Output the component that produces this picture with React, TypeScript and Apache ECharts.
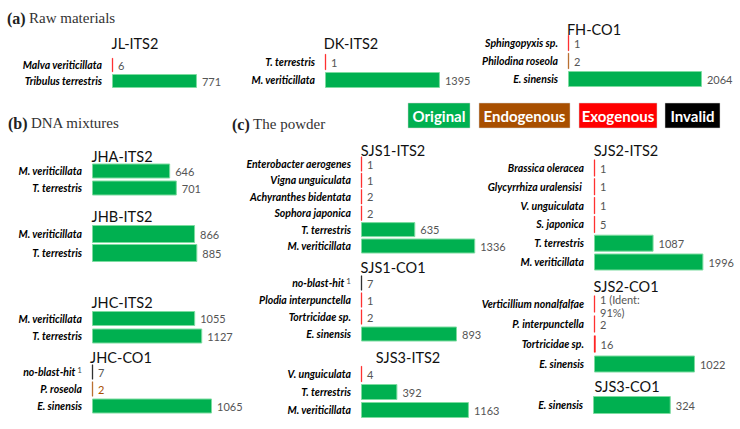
import React, { useEffect, useRef } from 'react';
import * as echarts from 'echarts';

// ---------- data ----------
const legendNames = ['Original', 'Endogenous', 'Exogenous', 'Invalid'];
const typeColors: Record<string, string> = { O: '#00B050', N: '#A84F00', X: '#FF0000', I: '#000000' };

const jlCats = ['Malva veriticillata', 'Tribulus terrestris'];
const jlVals = [6, 771];
const jlTypes = ['X', 'O'];

const dkCats = ['T. terrestris', 'M. veriticillata'];
const dkVals = [1, 1395];
const dkTypes = ['X', 'O'];

const fhCats = ['Sphingopyxis sp.', 'Philodina roseola', 'E. sinensis'];
const fhVals = [1, 2, 2064];
const fhTypes = ['X', 'N', 'O'];

const jhaCats = ['M. veriticillata', 'T. terrestris'];
const jhaVals = [646, 701];
const jhaTypes = ['O', 'O'];

const jhbCats = ['M. veriticillata', 'T. terrestris'];
const jhbVals = [866, 885];
const jhbTypes = ['O', 'O'];

const jhcItsCats = ['M. veriticillata', 'T. terrestris'];
const jhcItsVals = [1055, 1127];
const jhcItsTypes = ['O', 'O'];

const jhcCoCats = ['no-blast-hit', 'P. roseola', 'E. sinensis'];
const jhcCoVals = [7, 2, 1065];
const jhcCoTypes = ['I', 'N', 'O'];

const sjs1ItsCats = ['Enterobacter aerogenes', 'Vigna unguiculata', 'Achyranthes bidentata', 'Sophora japonica', 'T. terrestris', 'M. veriticillata'];
const sjs1ItsVals = [1, 1, 2, 2, 635, 1336];
const sjs1ItsTypes = ['X', 'X', 'X', 'X', 'O', 'O'];

const sjs1CoCats = ['no-blast-hit', 'Plodia interpunctella', 'Tortricidae sp.', 'E. sinensis'];
const sjs1CoVals = [7, 1, 2, 893];
const sjs1CoTypes = ['I', 'X', 'X', 'O'];

const sjs3ItsCats = ['V. unguiculata', 'T. terrestris', 'M. veriticillata'];
const sjs3ItsVals = [4, 392, 1163];
const sjs3ItsTypes = ['X', 'O', 'O'];

const sjs2ItsCats = ['Brassica oleracea', 'Glycyrrhiza uralensisi ', 'V. unguiculata', 'S. japonica', 'T. terrestris', 'M. veriticillata'];
const sjs2ItsVals = [1, 1, 1, 5, 1087, 1996];
const sjs2ItsTypes = ['X', 'X', 'X', 'X', 'O', 'O'];

const sjs2CoCats = ['Verticillium nonalfalfae', 'P. interpunctella', 'Tortricidae sp.', 'E. sinensis'];
const sjs2CoVals = [1, 2, 16, 1022];
const sjs2CoTypes = ['X', 'X', 'X', 'O'];
const sjs2CoNotes = [' (Ident:\n91%)', '', '', ''];

const sjs3CoCats = ['E. sinensis'];
const sjs3CoVals = [324];
const sjs3CoTypes = ['O'];

// ---------- layout ----------
type Panel = {
  title: string; cats: string[]; vals: number[]; types: string[]; notes?: string[];
  ax: number; ppu: number; row0: number; sp: number; bw: number; tx: number; ty: number; colorLabelTypes?: string[];
};

const panels: Panel[] = [
  { title: 'JL-ITS2', cats: jlCats, vals: jlVals, types: jlTypes, ax: 112, ppu: 0.1102, row0: 65, sp: 16, bw: 14, tx: 135, ty: 43 },
  { title: 'DK-ITS2', cats: dkCats, vals: dkVals, types: dkTypes, ax: 325, ppu: 0.0824, row0: 62, sp: 18, bw: 16, tx: 351, ty: 43 },
  { title: 'FH-CO1', cats: fhCats, vals: fhVals, types: fhTypes, ax: 568, ppu: 0.0649, row0: 43, sp: 18, bw: 16, tx: 594, ty: 29 },
  { title: 'JHA-ITS2', cats: jhaCats, vals: jhaVals, types: jhaTypes, ax: 92, ppu: 0.121, row0: 171, sp: 17, bw: 15, tx: 122, ty: 156 },
  { title: 'JHB-ITS2', cats: jhbCats, vals: jhbVals, types: jhbTypes, ax: 92, ppu: 0.119, row0: 234, sp: 19, bw: 18, tx: 122, ty: 216 },
  { title: 'JHC-ITS2', cats: jhcItsCats, vals: jhcItsVals, types: jhcItsTypes, ax: 92, ppu: 0.0978, row0: 318.5, sp: 17.5, bw: 15, tx: 122, ty: 302 },
  { title: 'JHC-CO1', cats: jhcCoCats, vals: jhcCoVals, types: jhcCoTypes, ax: 92, ppu: 0.1127, row0: 372, sp: 17, bw: 15, tx: 121, ty: 357, colorLabelTypes: ['N'] },
  { title: 'SJS1-ITS2', cats: sjs1ItsCats, vals: sjs1ItsVals, types: sjs1ItsTypes, ax: 361, ppu: 0.0855, row0: 164, sp: 16.4, bw: 15, tx: 393, ty: 150 },
  { title: 'SJS1-CO1', cats: sjs1CoCats, vals: sjs1CoVals, types: sjs1CoTypes, ax: 361, ppu: 0.1075, row0: 283, sp: 17, bw: 15, tx: 393, ty: 267 },
  { title: 'SJS3-ITS2', cats: sjs3ItsCats, vals: sjs3ItsVals, types: sjs3ItsTypes, ax: 361, ppu: 0.0928, row0: 374, sp: 18, bw: 16, tx: 408, ty: 357 },
  { title: 'SJS2-ITS2', cats: sjs2ItsCats, vals: sjs2ItsVals, types: sjs2ItsTypes, ax: 594, ppu: 0.0548, row0: 168, sp: 18.8, bw: 17, tx: 626, ty: 150 },
  { title: 'SJS2-CO1', cats: sjs2CoCats, vals: sjs2CoVals, types: sjs2CoTypes, notes: sjs2CoNotes, ax: 594, ppu: 0.0988, row0: 304, sp: 20, bw: 17, tx: 626, ty: 286 },
  { title: 'SJS3-CO1', cats: sjs3CoCats, vals: sjs3CoVals, types: sjs3CoTypes, ax: 593, ppu: 0.24, row0: 405, sp: 20, bw: 18, tx: 627, ty: 386 },
];

const sections = [
  { tag: '(a)', name: 'Raw materials', x: 7, y: 18 },
  { tag: '(b)', name: 'DNA mixtures', x: 8, y: 123 },
  { tag: '(c)', name: 'The powder', x: 232, y: 124 },
];

const legendBoxes = [
  { x: 408, w: 62 },
  { x: 479, w: 91 },
  { x: 579, w: 78 },
  { x: 665, w: 55 },
];
const legendTypes = ['O', 'N', 'X', 'I'];

const SANS = 'Lato, "Noto Sans", sans-serif';
const SERIF = '"Liberation Serif", "DejaVu Serif", serif';

function buildOption() {
  const grid: any[] = [];
  const xAxis: any[] = [];
  const yAxis: any[] = [];
  const series: any[] = [];
  const graphic: any[] = [];

  panels.forEach((p, i) => {
    const maxV = Math.max(...p.vals);
    grid.push({
      left: p.ax,
      top: p.row0 - p.sp / 2,
      width: maxV * p.ppu,
      height: p.cats.length * p.sp,
      containLabel: false,
    });
    xAxis.push({ type: 'value', gridIndex: i, min: 0, max: maxV, show: false });
    yAxis.push({
      type: 'category',
      gridIndex: i,
      data: p.cats,
      inverse: true,
      axisLine: { show: false },
      axisTick: { show: false },
      splitLine: { show: false },
      axisLabel: {
        margin: 10,
        formatter: (v: string) => (v === 'no-blast-hit' ? `{n|${v}}{s|1}` : `{n|${v}}`),
        rich: {
          n: { fontFamily: SANS, fontWeight: 'bold', fontStyle: 'italic', fontSize: 10.5, color: '#000', lineHeight: 12 },
          s: { fontFamily: SANS, fontSize: 8, color: '#444', lineHeight: 8, verticalAlign: 'top', padding: [0, 0, 0, 2] },
        },
      },
    });
    series.push({
      type: 'bar',
      xAxisIndex: i,
      yAxisIndex: i,
      barWidth: p.bw,
      barMinHeight: 1,
      data: p.vals.map((v, k) => {
        const t = p.types[k];
        const note = p.notes ? p.notes[k] : '';
        const item: any = {
          value: v,
          itemStyle: t === 'O'
            ? { color: typeColors[t], borderColor: '#7ddca0', borderWidth: 1 }
            : { color: typeColors[t], borderColor: typeColors[t], borderWidth: 0.5 },
        };
        const lab: any = {};
        if (note) { lab.formatter = `${v}${note}`; lab.lineHeight = 13; lab.offset = [0, 2]; }
        if (p.colorLabelTypes && p.colorLabelTypes.includes(t)) lab.color = typeColors[t];
        if (Object.keys(lab).length) item.label = lab;
        return item;
      }),
      label: {
        show: true,
        position: 'right',
        distance: 5,
        fontFamily: SANS,
        fontSize: 11,
        color: '#555',
      },
    });
    graphic.push({
      type: 'text',
      x: p.tx,
      y: p.ty,
      style: { text: p.title, fontFamily: SANS, fontSize: 14.5, lineHeight: 14, fill: '#111', align: 'center', verticalAlign: 'middle' },
    });
  });

  sections.forEach((s) => {
    graphic.push({
      type: 'text',
      x: s.x,
      y: s.y,
      style: {
        text: `{b|${s.tag}} {n|${s.name}}`,
        verticalAlign: 'middle',
        rich: {
          b: { fontFamily: SERIF, fontWeight: 'bold', fontSize: 16, fill: '#222' },
          n: { fontFamily: SERIF, fontSize: 15, fill: '#333' },
        },
      },
    });
  });

  legendBoxes.forEach((b, i) => {
    graphic.push({
      type: 'rect',
      shape: { x: b.x, y: 103, width: b.w, height: 25 },
      style: { fill: typeColors[legendTypes[i]], stroke: '#d0d0d0', lineWidth: 0.5 },
    });
    graphic.push({
      type: 'text',
      x: b.x + b.w / 2,
      y: 115.5,
      style: { text: legendNames[i], fontFamily: SANS, fontWeight: 'bold', fontSize: 15, fill: '#fff', align: 'center', verticalAlign: 'middle' },
    });
  });

  return {
    animation: false,
    backgroundColor: '#fff',
    grid,
    xAxis,
    yAxis,
    series,
    graphic,
  };
}

export default function App() {
  const ref = useRef<HTMLDivElement>(null);
  useEffect(() => {
    if (!ref.current) return;
    const chart = echarts.init(ref.current, undefined, { renderer: 'svg' });
    chart.setOption(buildOption() as any);
    return () => chart.dispose();
  }, []);
  return <div ref={ref} style={{ position: 'absolute', left: 0, top: 0, width: 740, height: 429 }} />;
}
